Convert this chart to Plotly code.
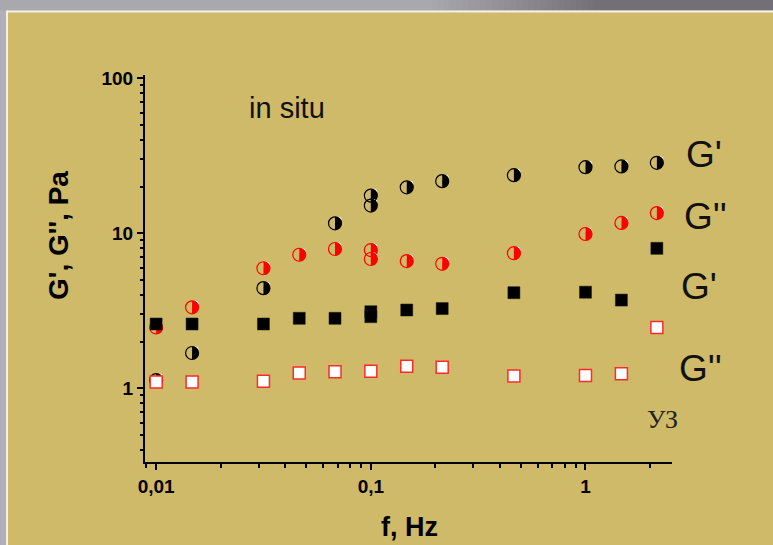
import plotly.graph_objects as go

# ---------------- data ----------------
# in situ, G' (black half circles)
f_gp_insitu = [0.01, 0.0147, 0.0316, 0.0681, 0.1, 0.1, 0.147, 0.215, 0.464, 1.0, 1.47, 2.15]
gp_insitu = [1.13, 1.69, 4.43, 11.6, 17.5, 15.1, 19.8, 21.7, 23.7, 26.7, 27.0, 28.5]

# in situ, G'' (red half circles)
f_gpp_insitu = [0.01, 0.0147, 0.0316, 0.0464, 0.0681, 0.1, 0.1, 0.147, 0.215, 0.464, 1.0, 1.47, 2.15]
gpp_insitu = [2.47, 3.33, 5.95, 7.27, 7.92, 7.8, 6.83, 6.62, 6.36, 7.44, 9.9, 11.66, 13.5]

# УЗ, G' (black squares)
f_gp_us = [0.01, 0.0147, 0.0316, 0.0464, 0.0681, 0.1, 0.1, 0.147, 0.215, 0.464, 1.0, 1.47, 2.15]
gp_us = [2.60, 2.60, 2.60, 2.83, 2.83, 3.12, 2.90, 3.20, 3.27, 4.14, 4.17, 3.71, 8.0]

# УЗ, G'' (open red squares)
f_gpp_us = [0.01, 0.0147, 0.0316, 0.0464, 0.0681, 0.1, 0.147, 0.215, 0.464, 1.0, 1.47, 2.15]
gpp_us = [1.10, 1.10, 1.11, 1.255, 1.28, 1.29, 1.39, 1.37, 1.20, 1.21, 1.24, 2.47]

x_major_ticks = [0.01, 0.1, 1]
x_major_labels = ["0,01", "0,1", "1"]
x_minor_ticks = [0.009, 0.02, 0.03, 0.04, 0.05, 0.06, 0.07, 0.08, 0.09,
                 0.2, 0.3, 0.4, 0.5, 0.6, 0.7, 0.8, 0.9, 2]
y_major_ticks = [1, 10, 100]
y_major_labels = ["1", "10", "100"]
y_minor_ticks = [0.4, 0.5, 0.6, 0.7, 0.8, 0.9, 2, 3, 4, 5, 6, 7, 8, 9,
                 20, 30, 40, 50, 60, 70, 80, 90]

x_title = "f, Hz"
y_title = "G', G'', Pa"
series_labels = ["G'", "G''", "G'", "G''"]
note_insitu = "in situ"
note_us = "УЗ"

# ---------------- layout geometry ----------------
W, H = 773, 545
L, R, T, B = 145, 101, 75, 83
PW, PH = W - L - R, H - T - B

def px(xp):
    return (xp - L) / PW

def py(yp):
    return (H - B - yp) / PH

BG = "#CFBA69"
SANS = "Liberation Sans, Arial, sans-serif"

fig = go.Figure()

# circle outlines (fill drawn by half-disk shapes below)
fig.add_trace(go.Scatter(x=f_gp_insitu, y=gp_insitu, mode="markers",
                         marker=dict(symbol="circle", size=13, color="rgba(0,0,0,0)",
                                     line=dict(color="black", width=1.2))))
fig.add_trace(go.Scatter(x=f_gpp_insitu, y=gpp_insitu, mode="markers",
                         marker=dict(symbol="circle", size=13, color="rgba(0,0,0,0)",
                                     line=dict(color="#FF0000", width=1.2))))
fig.add_trace(go.Scatter(x=f_gp_us, y=gp_us, mode="markers",
                         marker=dict(symbol="square", size=12, color="black",
                                     line=dict(color="#1a1a10", width=0.5))))
fig.add_trace(go.Scatter(x=f_gpp_us, y=gpp_us, mode="markers",
                         marker=dict(symbol="square", size=12, color="white",
                                     line=dict(color="#FF2A2A", width=1.5))))

shapes = []
r = 6.5
k = 0.5523 * r
right_half = f"M0,{r} C{k},{r} {r},{k} {r},0 C{r},{-k} {k},{-r} 0,{-r} Z"
for xs, ys, col in [(f_gp_insitu, gp_insitu, "black"), (f_gpp_insitu, gpp_insitu, "#FF0000")]:
    for xv, yv in zip(xs, ys):
        shapes.append(dict(type="circle", xref="x", yref="y", xsizemode="pixel", ysizemode="pixel",
                           xanchor=xv, yanchor=yv, x0=-r, x1=r, y0=-r, y1=r,
                           fillcolor="white", line=dict(width=0), layer="below"))
        shapes.append(dict(type="path", xref="x", yref="y", xsizemode="pixel", ysizemode="pixel",
                           xanchor=xv, yanchor=yv, path=right_half,
                           fillcolor=col, line=dict(width=0), layer="below"))

# decorative slide frame (grey strips + white line)
shapes.append(dict(type="rect", xref="paper", yref="paper", x0=px(0), x1=px(6), y0=py(W), y1=py(0),
                   fillcolor="#B2AFB8", line=dict(width=0), layer="above"))
shapes.append(dict(type="rect", xref="paper", yref="paper", x0=px(6), x1=px(8), y0=py(W), y1=py(10.5),
                   fillcolor="#F2F0F0", line=dict(width=0), layer="above"))
c1 = (170, 168, 175)
c2 = (114, 111, 118)
step = 6
xs0 = 0
while xs0 < W:
    xm = xs0 + step / 2
    t = min(max((xm - 430) / (600 - 430), 0), 1)
    col = tuple(round(c1[i] + (c2[i] - c1[i]) * t) for i in range(3))
    shapes.append(dict(type="rect", xref="paper", yref="paper", x0=px(xs0), x1=px(xs0 + step + 0.5),
                       y0=py(10.5), y1=py(0), fillcolor="rgb(%d,%d,%d)" % col,
                       line=dict(width=0), layer="above"))
    xs0 += step
shapes.append(dict(type="rect", xref="paper", yref="paper", x0=px(6), x1=px(W), y0=py(12.5), y1=py(10.5),
                   fillcolor="#F2F0F0", line=dict(width=0), layer="above"))

annotations = [
    dict(text=note_insitu, x=px(287), y=py(108), xref="paper", yref="paper", showarrow=False,
         font=dict(family=SANS, size=29, color="#111111"), xanchor="center", yanchor="middle"),
    dict(text=series_labels[0], x=px(704), y=py(154), xref="paper", yref="paper", showarrow=False,
         font=dict(family=SANS, size=37, color="#111111"), xanchor="center", yanchor="middle"),
    dict(text=series_labels[1], x=px(705), y=py(217), xref="paper", yref="paper", showarrow=False,
         font=dict(family=SANS, size=37, color="#111111"), xanchor="center", yanchor="middle"),
    dict(text=series_labels[2], x=px(699), y=py(286), xref="paper", yref="paper", showarrow=False,
         font=dict(family=SANS, size=37, color="#111111"), xanchor="center", yanchor="middle"),
    dict(text=series_labels[3], x=px(700), y=py(368), xref="paper", yref="paper", showarrow=False,
         font=dict(family=SANS, size=37, color="#111111"), xanchor="center", yanchor="middle"),
    dict(text=note_us, x=px(662), y=py(419), xref="paper", yref="paper", showarrow=False,
         font=dict(family="Liberation Serif, Times New Roman, serif", size=26, color="#222222"),
         xanchor="center", yanchor="middle"),
    dict(text=x_title, x=px(409), y=py(527), xref="paper", yref="paper", showarrow=False,
         font=dict(family=SANS, size=27, color="black", weight="bold"), xanchor="center", yanchor="middle"),
    dict(text=y_title, x=px(58), y=py(236), xref="paper", yref="paper", showarrow=False, textangle=-90,
         font=dict(family=SANS, size=28, color="black", weight="bold"), xanchor="center", yanchor="middle"),
]

axis_common = dict(
    type="log", showgrid=False, zeroline=False, showline=True, linecolor="black", linewidth=2,
    ticks="outside", ticklen=6, tickwidth=2, tickcolor="black",
    tickfont=dict(family=SANS, size=19, color="black", weight="bold"),
)

fig.update_layout(
    width=W, height=H,
    margin=dict(l=L, r=R, t=T, b=B, pad=0),
    paper_bgcolor=BG, plot_bgcolor=BG,
    showlegend=False,
    xaxis=dict(range=[-2.052, 0.403], tickmode="array", tickvals=x_major_ticks, ticktext=x_major_labels,
               minor=dict(tickmode="array", tickvals=x_minor_ticks, ticks="outside", ticklen=3.5,
                          tickwidth=1.5, tickcolor="black", showgrid=False),
               **axis_common),
    yaxis=dict(range=[-0.475, 2.021], tickmode="array", tickvals=y_major_ticks, ticktext=y_major_labels,
               minor=dict(tickmode="array", tickvals=y_minor_ticks, ticks="outside", ticklen=3.5,
                          tickwidth=1.5, tickcolor="black", showgrid=False),
               **axis_common),
    shapes=shapes,
    annotations=annotations,
)

fig.write_html("out.html")
